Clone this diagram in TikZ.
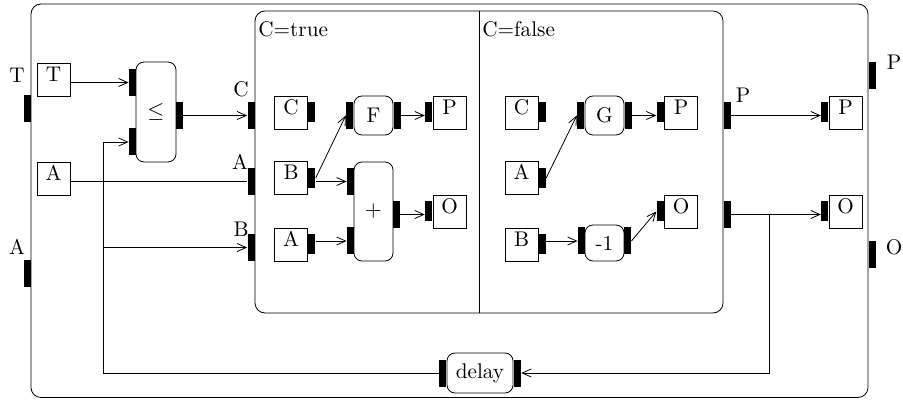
\documentclass[tikz,border=0pt]{standalone}
\usetikzlibrary{arrows.meta,positioning}

\begin{document}
\begin{tikzpicture}[
        x=0.5pt, y=-0.5pt,
        >={Straight Barb[length=4.5pt,width=4pt]},
        font=\fontsize{10.6}{12}\selectfont,
        box/.style={draw, minimum width=16.5pt, minimum height=16.5pt, inner sep=0pt, text height=7pt, text depth=5pt},
        blk/.style={draw, rounded corners=4pt, inner sep=0pt},
        prt/.style={fill=black, minimum width=3.5pt, minimum height=13.5pt, inner sep=0pt},
        sprt/.style={fill=black, minimum width=3.5pt, minimum height=10pt, inner sep=0pt},
        lbl/.style={inner sep=0pt, anchor=base}
        ]
    \useasboundingbox (0,0) rectangle (903,400);

    % Frames
    \node[draw, rounded corners=5pt, minimum width=418.5pt, minimum height=196.75pt] (sys) at (449.5,200.75) {};
    \node[draw, rounded corners=5pt, minimum width=234pt, minimum height=151pt] (cond) at (489,162) {};
    \coordinate (div) at (479,0);
    \draw (div |- cond.north) -- (div |- cond.south);
    \node[lbl, anchor=base west] (ctrue) at (258,37) {C=true};
    \node[lbl, anchor=base west] (cfalse) at (482,37) {C=false};

    % System ports
    \node[prt] (pT) at (27.5,109) {};
    \node[lbl] (lT) at (17,83) {T};
    \node[prt] (pA) at (27.5,274) {};
    \node[lbl] (lA) at (17,255) {A};
    \node[prt] (pP) at (872,75.5) {};
    \node[lbl] (lP) at (894,70) {P};
    \node[prt] (pO) at (872,254.5) {};
    \node[lbl] (lO) at (894,255) {O};

    % Inputs and comparison
    \node[box] (Tb) at (53.5,79.5) {T};
    \node[box] (Ab) at (53.5,178.5) {A};
    \node[blk, minimum width=20pt, minimum height=50pt] (leq) at (156,112) {$\leq$};
    \node[prt] (lin1) at (132.5,82.5) {};
    \node[prt] (lin2) at (132.5,142) {};
    \node[prt] (lout) at (179.5,115.5) {};

    % Condition ports
    \node[prt] (rC) at (251,115.5) {};
    \node[lbl] (lrC) at (241,97) {C};
    \node[prt] (rA) at (251,181.5) {};
    \node[lbl] (lrA) at (240,170) {A};
    \node[prt] (rB) at (251,247.5) {};
    \node[lbl] (lrB) at (241,237) {B};
    \node[prt] (rP) at (727,115.5) {};
    \node[lbl] (lrP) at (743,103) {P};
    \node[prt] (rO) at (727,214.5) {};

    % C=true
    \node[box] (tC) at (291,112.5) {C};
    \node[sprt, anchor=west] (tCp) at (tC.east) {};
    \node[box] (tB) at (291,178) {B};
    \node[sprt, anchor=west] (tBp) at (tB.east) {};
    \node[box] (tA) at (291,244.5) {A};
    \node[sprt, anchor=west] (tAp) at (tA.east) {};
    \node[blk, minimum size=19.5pt] (F) at (373.5,115.5) {F};
    \node[prt, anchor=east] (fIn) at (F.west) {};
    \node[prt, anchor=west] (fOut) at (F.east) {};
    \node[box] (tP) at (449.5,112.5) {P};
    \node[sprt, anchor=east] (tPp) at (tP.west) {};
    \node[blk, minimum width=19.5pt, minimum height=49.5pt] (plus) at (373.5,211.5) {$+$};
    \node[prt] (pIn1) at (350.5,181.5) {};
    \node[prt] (pIn2) at (350.5,241) {};
    \node[prt] (pOut) at (396.5,214.5) {};
    \node[box] (tO) at (449.5,211.5) {O};
    \node[sprt, anchor=east] (tOp) at (tO.west) {};

    % C=false
    \node[box] (fC) at (521.5,112.5) {C};
    \node[sprt, anchor=west] (fCp) at (fC.east) {};
    \node[box] (fA) at (521.5,178) {A};
    \node[sprt, anchor=west] (fAp) at (fA.east) {};
    \node[box] (fB) at (521.5,244.5) {B};
    \node[sprt, anchor=west] (fBp) at (fB.east) {};
    \node[blk, minimum size=19.5pt] (G) at (604.5,115.5) {G};
    \node[prt, anchor=east] (gIn) at (G.west) {};
    \node[prt, anchor=west] (gOut) at (G.east) {};
    \node[box] (fP) at (681,112.5) {P};
    \node[sprt, anchor=east] (fPp) at (fP.west) {};
    \node[blk, minimum width=19.5pt, minimum height=18pt] (dec) at (604.5,243) {-1};
    \node[prt] (mIn) at (581.5,241) {};
    \node[prt] (mOut) at (627.5,241) {};
    \node[box] (fO) at (681,211.5) {O};
    \node[sprt, anchor=east] (fOp) at (fO.west) {};

    % Outputs and delay
    \node[box] (oP) at (845.5,112.5) {P};
    \node[sprt, anchor=east] (oPp) at (oP.west) {};
    \node[box] (oO) at (845.5,211.5) {O};
    \node[sprt, anchor=east] (oOp) at (oO.west) {};
    \node[blk, minimum width=33pt, minimum height=20pt] (dly) at (480,373) {delay};
    \node[prt, anchor=east] (dOut) at (dly.west) {};
    \node[prt, anchor=west] (dIn) at (dly.east) {};
    \coordinate (j1) at (769,214.5);
    \coordinate (j2) at (103,142);
    \coordinate (j3) at (103,247.5);

    % Edges
    \draw[->] (Tb.east |- lin1.west) -- (lin1.west);
    \draw[->] (lout.east) -- (rC.west |- lout.east);
    \draw (Ab.east |- rA.west) -- (rA.west);
    \draw[->] (dOut.west) -| (j2) -- (lin2.west);
    \draw[->] (j3) -- (rB.west);
    \draw[->] (tBp.east) -- (fIn.west);
    \draw[->] (tBp.east |- pIn1.west) -- (pIn1.west);
    \draw[->] (tAp.east |- pIn2.west) -- (pIn2.west);
    \draw[->] (fOut.east) -- (tPp.west |- fOut.east);
    \draw[->] (pOut.east) -- (tOp.west |- pOut.east);
    \draw[->] (fAp.east) -- (gIn.west);
    \draw[->] (fBp.east |- mIn.west) -- (mIn.west);
    \draw[->] (gOut.east) -- (fPp.west |- gOut.east);
    \draw[->] (mOut.east) -- (fOp.west);
    \draw[->] (rP.east) -- (oPp.west |- rP.east);
    \draw[->] (rO.east) -- (oOp.west |- rO.east);
    \draw[->] (j1) |- (dIn.east);

\end{tikzpicture}
\end{document}
